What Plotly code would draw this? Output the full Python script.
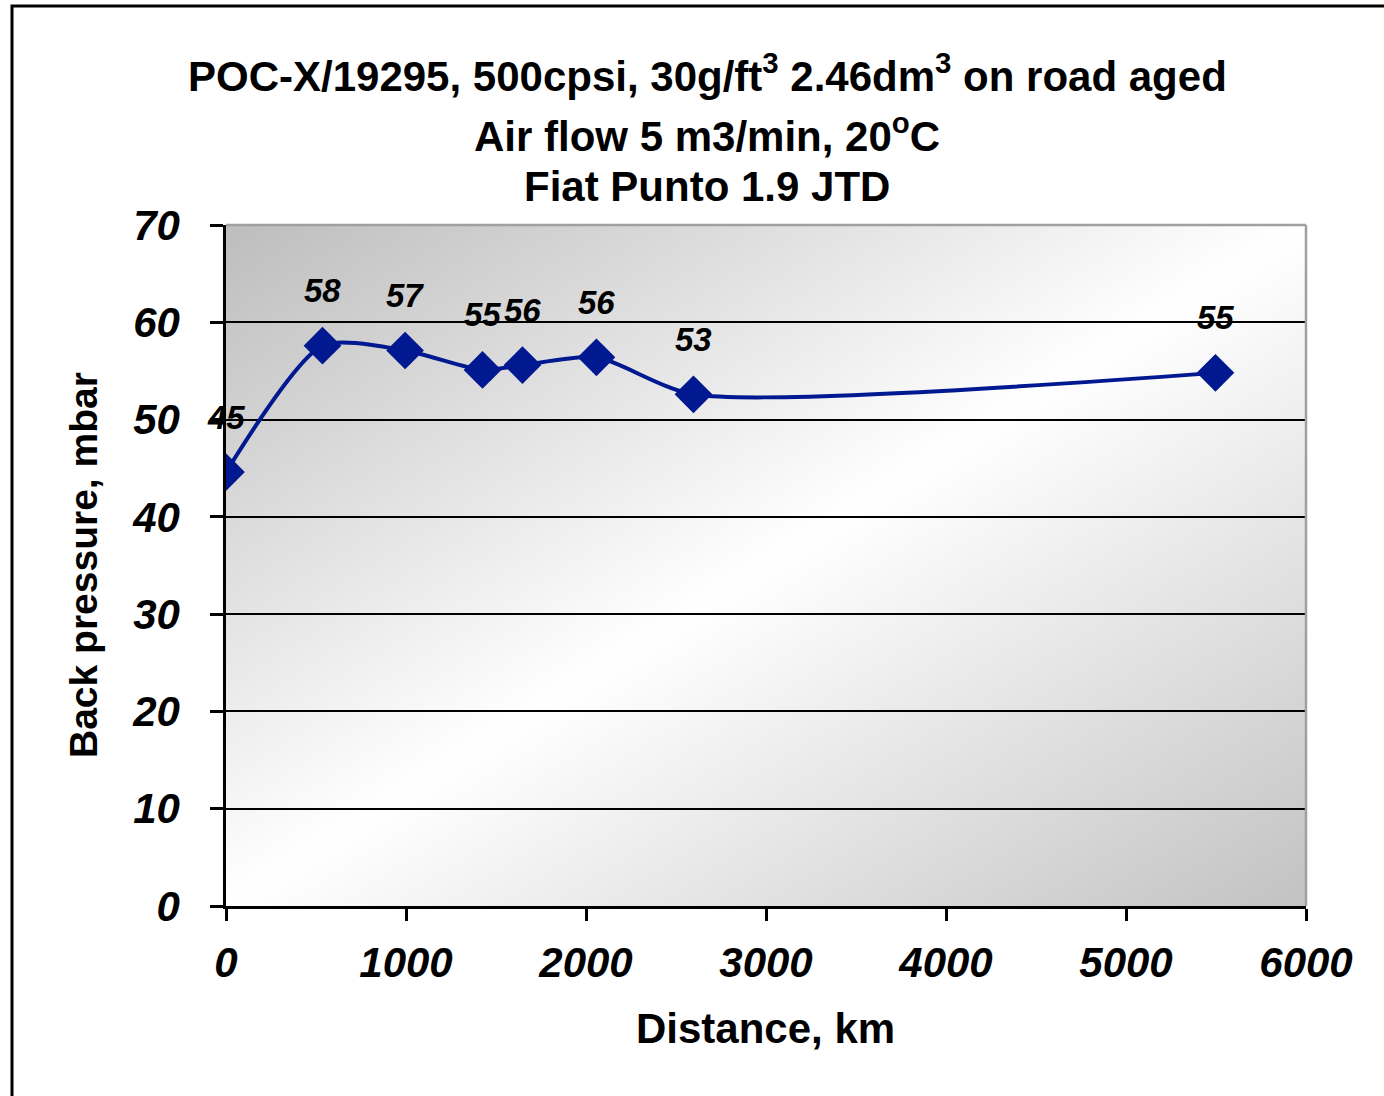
import base64
import plotly.graph_objects as go

# ---- data ----
distance_km = [0, 536, 995, 1425, 1647, 2058, 2597, 5497]
back_pressure = [44.6, 57.6, 57.1, 55.1, 55.6, 56.4, 52.6, 54.8]
labels = [f"{round(v + 1e-9):.0f}" for v in back_pressure]
x_ticks = [0, 1000, 2000, 3000, 4000, 5000, 6000]
y_ticks = [0, 10, 20, 30, 40, 50, 60, 70]

title_lines = [
    "POC-X/19295, 500cpsi, 30g/ft<sup>3</sup> 2.46dm<sup>3</sup> on road aged",
    "Air flow 5 m3/min, 20<sup>o</sup>C",
    "Fiat Punto 1.9 JTD",
]
x_title = "Distance, km"
y_title = "Back pressure, mbar"

# ---- layout geometry (page pixels; body margin removed by post_script) ----
W, H = 1384, 1096
L, R, T, B = 226, 1306, 225, 906
PW, PH = R - L, B - T


def px(xp):
    return (xp - L) / PW


def py(yp):
    return (B - yp) / PH


FONT = "Liberation Sans, Arial, sans-serif"
LINE_COLOR = "#001890"

svg = ('<svg xmlns="http://www.w3.org/2000/svg" width="100" height="100" '
       'viewBox="0 0 100 100" preserveAspectRatio="none"><defs>'
       '<linearGradient id="g" x1="0" y1="0" x2="1" y2="1">'
       '<stop offset="0" stop-color="#bdbdbd"/>'
       '<stop offset="0.5" stop-color="#ffffff"/>'
       '<stop offset="1" stop-color="#c2c2c2"/>'
       '</linearGradient></defs>'
       '<rect width="100" height="100" fill="url(#g)"/></svg>')
svg_uri = "data:image/svg+xml;base64," + base64.b64encode(svg.encode()).decode()

fig = go.Figure()
fig.add_trace(go.Scatter(
    x=distance_km, y=back_pressure,
    mode="lines+markers",
    line=dict(color=LINE_COLOR, width=4, shape="spline", smoothing=0.7),
    marker=dict(symbol="diamond", size=29, color=LINE_COLOR),
    showlegend=False, hoverinfo="x+y",
))

annotations = []
for xv, yv, lab in zip(distance_km, back_pressure, labels):
    annotations.append(dict(
        x=xv, y=yv, xref="x", yref="y", text=f"<b><i>{lab}</i></b>",
        showarrow=False, xanchor="center", yanchor="middle", yshift=55,
        font=dict(family=FONT, size=33, color="black"),
    ))

title_y = [73, 133, 186]
for txt, ty in zip(title_lines, title_y):
    annotations.append(dict(
        x=px(707), y=py(ty), xref="paper", yref="paper",
        text=f"<b>{txt}</b>", showarrow=False,
        xanchor="center", yanchor="middle",
        font=dict(family=FONT, size=42, color="black"),
    ))

annotations.append(dict(
    x=px(765), y=py(1028), xref="paper", yref="paper",
    text=f"<b>{x_title}</b>", showarrow=False,
    xanchor="center", yanchor="middle",
    font=dict(family=FONT, size=42, color="black"),
))
annotations.append(dict(
    x=px(83), y=py(565), xref="paper", yref="paper",
    text=f"<b>{y_title}</b>", showarrow=False, textangle=-90,
    xanchor="center", yanchor="middle",
    font=dict(family=FONT, size=39, color="black"),
))

shapes = [
    # top and right plot border (gray)
    dict(type="line", xref="paper", yref="paper", x0=0, x1=1, y0=1, y1=1,
         line=dict(color="#a0a0a0", width=2.5), layer="above"),
    dict(type="line", xref="paper", yref="paper", x0=1, x1=1, y0=0, y1=1,
         line=dict(color="#a0a0a0", width=2.5), layer="above"),
    # outer chart frame
    dict(type="rect", xref="paper", yref="paper",
         x0=px(12), x1=px(1420), y0=py(1130), y1=py(6),
         line=dict(color="black", width=3), fillcolor="rgba(0,0,0,0)", layer="above"),
]

fig.update_layout(
    width=W, height=H,
    margin=dict(l=L, r=W - R, t=T, b=H - B, pad=0),
    paper_bgcolor="white",
    plot_bgcolor="rgba(0,0,0,0)",
    images=[dict(source=svg_uri, xref="paper", yref="paper", x=0, y=1,
                 sizex=1, sizey=1, sizing="stretch", xanchor="left",
                 yanchor="top", layer="below")],
    annotations=annotations,
    shapes=shapes,
    font=dict(family=FONT, color="black"),
    xaxis=dict(
        range=[0, 6000], tickvals=x_ticks, ticktext=[f"<i>{v}</i>" for v in x_ticks],
        showgrid=False, zeroline=False,
        showline=True, linecolor="black", linewidth=3,
        ticks="outside", ticklen=12, tickwidth=2.5, tickcolor="black",
        tickfont=dict(family=FONT, size=42, color="black", weight="bold"),
        ticklabelstandoff=6,
    ),
    yaxis=dict(
        range=[0, 70], tickvals=y_ticks, ticktext=[f"<i>{v}</i>" for v in y_ticks],
        showgrid=True, gridcolor="black", gridwidth=2, zeroline=False,
        showline=True, linecolor="black", linewidth=2.5,
        ticks="outside", ticklen=13, tickwidth=2.5, tickcolor="black",
        tickfont=dict(family=FONT, size=42, color="black", weight="bold"),
        ticklabelstandoff=22,
    ),
)

fig.write_html(
    "out.html",
    config={"displayModeBar": False},
    post_script="document.body.style.margin='0';document.body.style.overflow='hidden';",
)
